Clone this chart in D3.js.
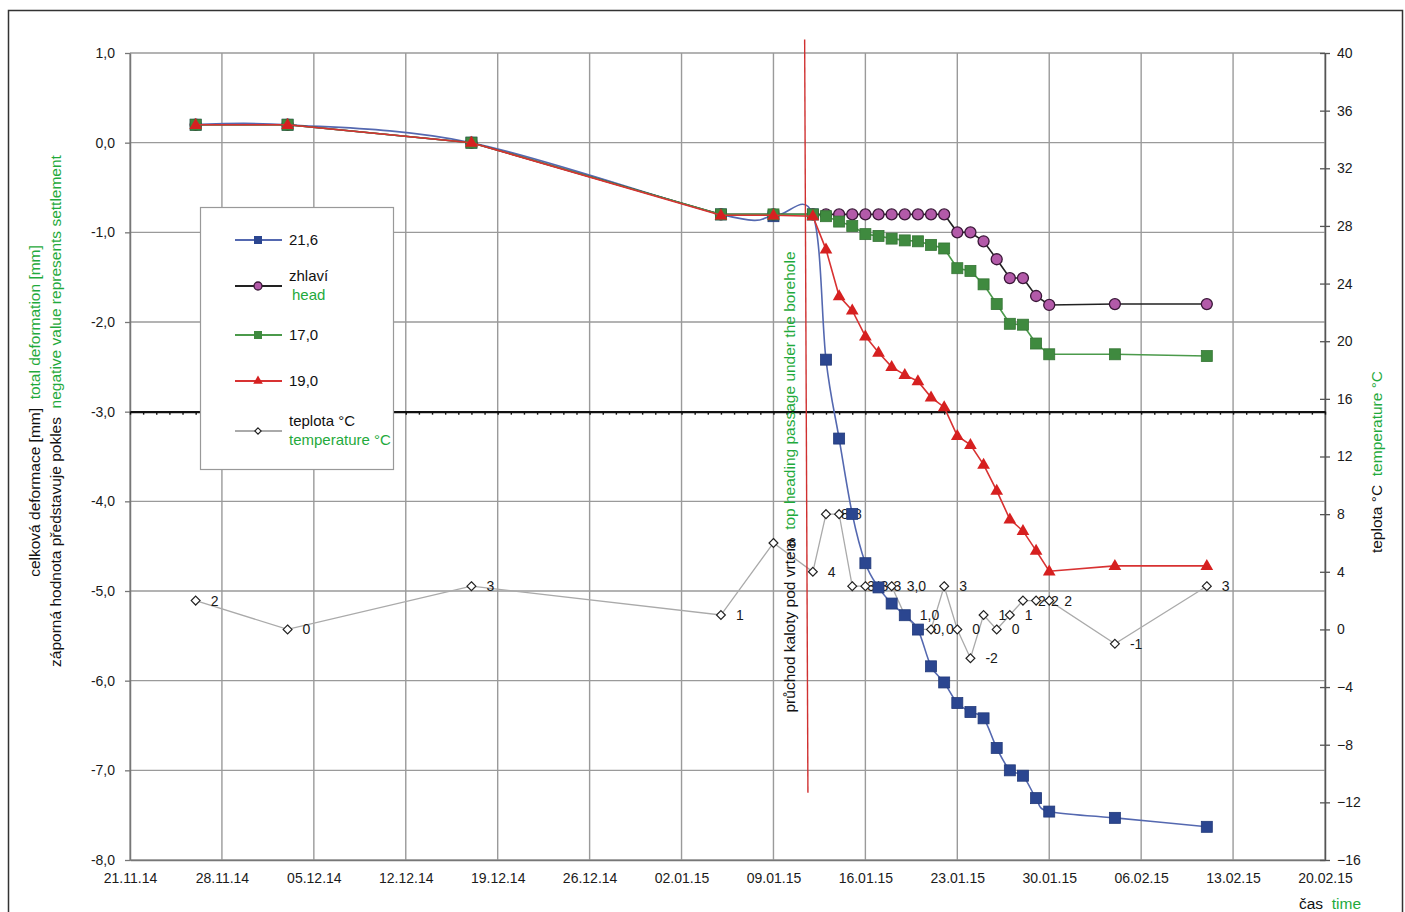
<!DOCTYPE html>
<html><head><meta charset="utf-8">
<script src="https://cdn.jsdelivr.net/npm/d3@7"></script>
<style>
html,body{margin:0;padding:0;background:#fff;}
svg{display:block;font-family:"Liberation Sans",Arial,sans-serif;}
</style></head>
<body><svg id="c" width="1405" height="912"></svg>
<script>
// ---------------- DATA ----------------
const dates = ["26.11.14","03.12.14","17.12.14","05.01.15","09.01.15","12.01.15","13.01.15","14.01.15","15.01.15",
  "16.01.15","17.01.15","18.01.15","19.01.15","20.01.15","21.01.15","22.01.15","23.01.15","24.01.15","25.01.15",
  "26.01.15","27.01.15","28.01.15","29.01.15","30.01.15","04.02.15","11.02.15"];
const s216 = [0.2,0.2,0.0,-0.8,-0.82,-0.8,-2.42,-3.30,-4.14,-4.69,-4.96,-5.14,-5.27,-5.43,-5.84,-6.02,-6.25,-6.35,-6.42,
  -6.75,-7.00,-7.06,-7.31,-7.46,-7.53,-7.63];
const sHead = [0.2,0.2,0.0,-0.8,-0.8,-0.8,-0.8,-0.8,-0.8,-0.8,-0.8,-0.8,-0.8,-0.8,-0.8,-0.8,-1.0,-1.0,-1.10,
  -1.30,-1.51,-1.51,-1.71,-1.81,-1.8,-1.8];
const s170 = [0.2,0.2,0.0,-0.8,-0.8,-0.8,-0.82,-0.88,-0.93,-1.02,-1.04,-1.07,-1.09,-1.10,-1.14,-1.18,-1.40,-1.43,-1.58,
  -1.80,-2.02,-2.03,-2.24,-2.36,-2.36,-2.38];
const s190 = [0.2,0.2,0.0,-0.81,-0.81,-0.82,-1.19,-1.71,-1.87,-2.16,-2.34,-2.50,-2.59,-2.66,-2.84,-2.95,-3.27,-3.37,-3.59,
  -3.88,-4.20,-4.33,-4.55,-4.78,-4.72,-4.72];
const temps = [2,0,3,1,6,4,8,8,3,3,3,3,1,0,0,3,0,-2,1,0,1,2,2,2,-1,3];
const tempLabels = ["2","0","3","1","6","4","8","8","3","3","3","3,0","1,0","0,","0","3","0","-2","1","0","1","2","2","2","-1","3"];
const xTickLabels = ["21.11.14","28.11.14","05.12.14","12.12.14","19.12.14","26.12.14","02.01.15","09.01.15","16.01.15",
  "23.01.15","30.01.15","06.02.15","13.02.15","20.02.15"];
const yTicks = [1,0,-1,-2,-3,-4,-5,-6,-7,-8];
const y2Ticks = [40,36,32,28,24,20,16,12,8,4,0,-4,-8,-12,-16];
const eventTop = ["11.01.15 09", 1.15];
const eventBottom = ["11.01.15 15", -7.25];
const refLevel = -3;

// ---------------- SETUP ----------------
const parse = d3.timeParse("%d.%m.%y");
const parseH = d3.timeParse("%d.%m.%y %H");
const svg = d3.select("#c");
const L = 130, R = 1325, T = 53, B = 860;
const xDates = xTickLabels.map(parse);
const x = d3.scaleTime().domain([xDates[0], xDates[xDates.length-1]]).range([L, R]);
const y = d3.scaleLinear().domain([-8, 1]).range([B, T]);
const y2 = d3.scaleLinear().domain([-16, 40]).range([B, T]);
const pts = dates.map(parse);
const FONT = "Liberation Sans, Arial, sans-serif";

// outer frame
svg.append("rect").attr("x",8.5).attr("y",10.5).attr("width",1394).attr("height",920)
  .attr("fill","none").attr("stroke","#333").attr("stroke-width",1.5);

// gridlines
const grid = svg.append("g");
grid.selectAll("line.h").data(yTicks).join("line")
  .attr("x1",L).attr("x2",R).attr("y1",d=>y(d)).attr("y2",d=>y(d))
  .attr("stroke","#9a9a9a").attr("stroke-width",1.4);
grid.selectAll("line.v").data(xDates).join("line")
  .attr("x1",d=>x(d)).attr("x2",d=>x(d)).attr("y1",T).attr("y2",B)
  .attr("stroke","#9a9a9a").attr("stroke-width",1.4);

// left axis
const fmt = d => d.toFixed(1).replace(".", ",");
const ax = svg.append("g").attr("transform",`translate(${L},0)`)
  .call(d3.axisLeft(y).tickValues(yTicks).tickFormat(fmt).tickSize(5).tickSizeOuter(0).tickPadding(10));
ax.select(".domain").attr("stroke","#777").attr("stroke-width",1.5);
ax.selectAll(".tick line").attr("stroke","#777").attr("stroke-width",1.3);
ax.selectAll("text").attr("font-size",14).attr("fill","#1a1a1a").attr("font-family",FONT);

// bottom axis
const bx = svg.append("g").attr("transform",`translate(0,${B})`)
  .call(d3.axisBottom(x).tickValues(xDates).tickFormat((d,i)=>xTickLabels[i]).tickSize(0).tickSizeOuter(0).tickPadding(13));
bx.select(".domain").attr("stroke","#777").attr("stroke-width",1.5);
bx.selectAll("text").attr("font-size",14).attr("fill","#1a1a1a").attr("font-family",FONT);

// right axis
const rx = svg.append("g").attr("transform",`translate(${R},0)`)
  .call(d3.axisRight(y2).tickValues(y2Ticks).tickSize(5).tickSizeOuter(0).tickPadding(7));
rx.select(".domain").attr("stroke","#555").attr("stroke-width",1.5);
rx.selectAll(".tick line").attr("x1",-5).attr("stroke","#555").attr("stroke-width",1.3);
rx.selectAll("text").attr("font-size",14).attr("fill","#1a1a1a").attr("font-family",FONT);

// reference line at -3 with daily ticks
const rl = svg.append("g").attr("transform",`translate(0,${y(refLevel)})`)
  .call(d3.axisBottom(x).ticks(d3.timeDay.every(1)).tickFormat("").tickSize(3).tickSizeOuter(0));
rl.select(".domain").attr("stroke","#111").attr("stroke-width",2.2);
rl.selectAll(".tick line").attr("stroke","#111").attr("stroke-width",1.4);

// temperature series
const tLine = d3.line().x((d,i)=>x(pts[i])).y(d=>y2(d));
svg.append("path").attr("d",tLine(temps)).attr("fill","none").attr("stroke","#aaa").attr("stroke-width",1.3);
const dia = d3.symbol().type(d3.symbolDiamond2).size(50);
svg.append("g").selectAll("path").data(temps).join("path")
  .attr("d",dia).attr("transform",(d,i)=>`translate(${x(pts[i])},${y2(d)})`)
  .attr("fill","#fff").attr("stroke","#222").attr("stroke-width",1.2);
svg.append("g").selectAll("text").data(temps).join("text")
  .attr("x",(d,i)=>x(pts[i])+15).attr("y",d=>y2(d)+5).text((d,i)=>tempLabels[i])
  .attr("font-size",14).attr("fill","#1a1a1a");

// deformation series
function drawSeries(vals, lineColor, lw, curve, marker){
  const ln = d3.line().x((d,i)=>x(pts[i])).y(d=>y(d)).curve(curve);
  svg.append("path").attr("d",ln(vals)).attr("fill","none").attr("stroke",lineColor).attr("stroke-width",lw);
  const g = svg.append("g");
  vals.forEach((v,i)=>marker(g, x(pts[i]), y(v)));
}
const sq = (fill, stroke) => (g,cx,cy)=> g.append("rect").attr("x",cx-5.5).attr("y",cy-5.5).attr("width",11).attr("height",11)
  .attr("fill",fill).attr("stroke",stroke).attr("stroke-width",0.8);
const circ = (g,cx,cy)=> g.append("circle").attr("cx",cx).attr("cy",cy).attr("r",5.5)
  .attr("fill","#b35aa9").attr("stroke","#3a1838").attr("stroke-width",1.3);
const tri = (g,cx,cy)=> g.append("path").attr("d",d3.symbol().type(d3.symbolTriangle).size(70)())
  .attr("transform",`translate(${cx},${cy+0.5})`).attr("fill","#d62020");

drawSeries(s216, "#5468b0", 1.6, d3.curveCardinal.tension(0), sq("#2b4690","#223a7a"));
drawSeries(sHead, "#222", 1.6, d3.curveLinear, circ);
drawSeries(s170, "#4b9a4b", 1.6, d3.curveLinear, sq("#3f8a3f","#357535"));
drawSeries(s190, "#d83232", 1.6, d3.curveLinear, tri);

// event line
svg.append("line")
  .attr("x1",x(parseH(eventTop[0]))).attr("y1",y(eventTop[1]))
  .attr("x2",x(parseH(eventBottom[0]))).attr("y2",y(eventBottom[1]))
  .attr("stroke","#d03030").attr("stroke-width",1.4);

// event label (vertical)
const ev = svg.append("text").attr("transform","translate(795,482) rotate(-90)")
  .attr("text-anchor","middle").attr("font-size",15.5);
ev.append("tspan").attr("fill","#111").text("průchod kaloty pod vrtem");
ev.append("tspan").attr("fill","#1faa3c").text("\u00a0\u00a0top heading passage under the borehole");

// axis titles
const t1 = svg.append("text").attr("transform","translate(40,411) rotate(-90)").attr("text-anchor","middle").attr("font-size",15.5);
t1.append("tspan").attr("fill","#111").text("celková deformace [mm]");
t1.append("tspan").attr("fill","#1faa3c").text("\u00a0\u00a0total deformation [mm]");
const t2 = svg.append("text").attr("transform","translate(61,411) rotate(-90)").attr("text-anchor","middle").attr("font-size",15.5);
t2.append("tspan").attr("fill","#111").text("záporná hodnota představuje pokles");
t2.append("tspan").attr("fill","#1faa3c").text("\u00a0\u00a0negative value represents settlement");
const t3 = svg.append("text").attr("transform","translate(1382,462) rotate(-90)").attr("text-anchor","middle").attr("font-size",15.5);
t3.append("tspan").attr("fill","#111").text("teplota °C");
t3.append("tspan").attr("fill","#1faa3c").text("\u00a0\u00a0temperature °C");
const t4 = svg.append("text").attr("x",1299).attr("y",909).attr("font-size",15.5);
t4.append("tspan").attr("fill","#111").text("čas");
t4.append("tspan").attr("fill","#1faa3c").text("\u00a0\u00a0time");

// legend
const lg = svg.append("g");
lg.append("rect").attr("x",200.5).attr("y",207.5).attr("width",193).attr("height",262)
  .attr("fill","#fff").attr("stroke","#999").attr("stroke-width",1.2);
const legItems = [
  {yy:240, color:"#5468b0", kind:"sq", fill:"#2b4690", t1:"21,6"},
  {yy:286, color:"#222", kind:"circ", t1:"zhlaví", t2:"head"},
  {yy:335, color:"#4b9a4b", kind:"sq", fill:"#3f8a3f", t1:"17,0"},
  {yy:381, color:"#d83232", kind:"tri", t1:"19,0"},
  {yy:431, color:"#aaa", kind:"dia", t1:"teplota °C", t2:"temperature °C"}
];
legItems.forEach(it=>{
  lg.append("line").attr("x1",235).attr("x2",282).attr("y1",it.yy).attr("y2",it.yy)
    .attr("stroke",it.color).attr("stroke-width",2);
  if(it.kind==="circ"){ lg.append("circle").attr("cx",258).attr("cy",it.yy).attr("r",4)
      .attr("fill","#b35aa9").attr("stroke","#3a1838").attr("stroke-width",1.3);}
  else if(it.kind==="tri"){ lg.append("path").attr("d",d3.symbol().type(d3.symbolTriangle).size(40)()).attr("transform",`translate(258,${it.yy})`).attr("fill","#d62020"); }
  else if(it.kind==="sq"){ lg.append("rect").attr("x",254).attr("y",it.yy-4).attr("width",8).attr("height",8).attr("fill", it.fill); }
  else { lg.append("path").attr("d",d3.symbol().type(d3.symbolDiamond2).size(26)()).attr("transform",`translate(258,${it.yy})`)
    .attr("fill","#fff").attr("stroke","#222").attr("stroke-width",1.1); }
  if(it.t2){
    lg.append("text").attr("x",289).attr("y",it.yy-5).attr("font-size",15).attr("fill","#111").text(it.t1);
    lg.append("text").attr("x",it.kind==="circ"?292:289).attr("y",it.yy+14).attr("font-size",15).attr("fill","#1faa3c").text(it.t2);
  } else {
    lg.append("text").attr("x",289).attr("y",it.yy+5).attr("font-size",15).attr("fill","#111").text(it.t1);
  }
});
</script></body></html>
